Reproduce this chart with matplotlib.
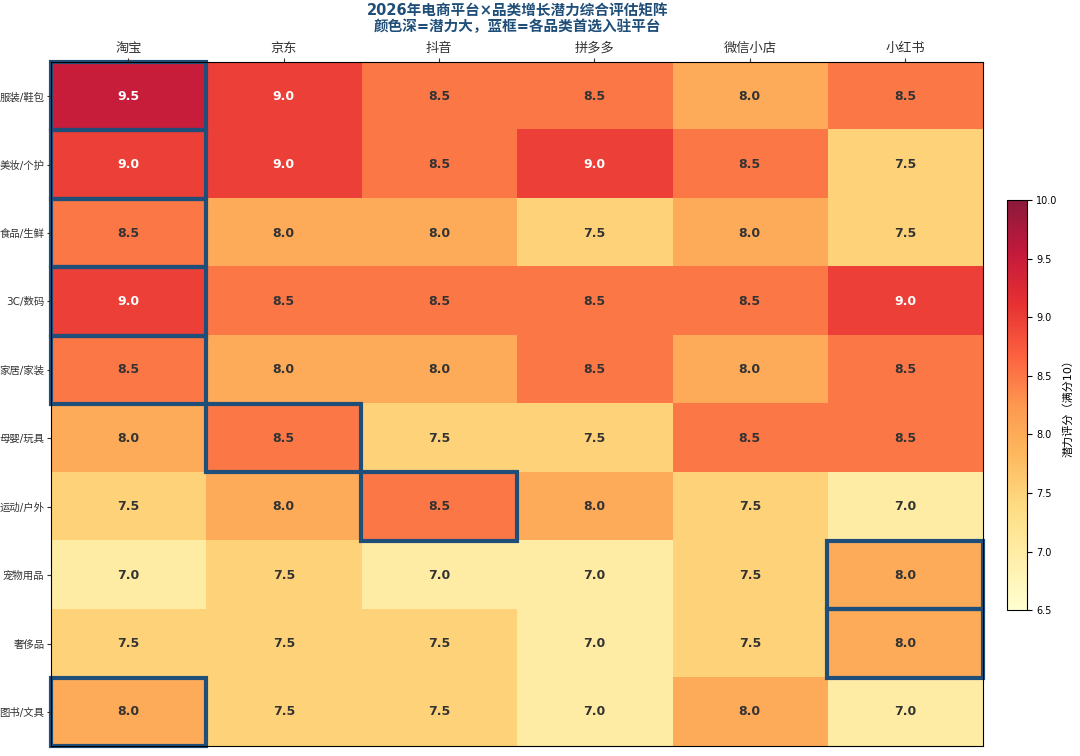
import numpy as np
import matplotlib
matplotlib.use("Agg")
import matplotlib.pyplot as plt
from matplotlib.patches import Rectangle

# DejaVu for digits/latin, CJK font picks up the Chinese glyphs
plt.rcParams['font.family'] = ['DejaVu Sans', 'Noto Sans CJK SC']
plt.rcParams['axes.unicode_minus'] = False

# platforms (columns) and categories (rows)
platforms = ["淘宝", "京东", "抖音", "拼多多", "微信小店", "小红书"]
categories = ["服装/鞋包", "美妆/个护", "食品/生鲜", "3C/数码", "家居/家装",
              "母婴/玩具", "运动/户外", "宠物用品", "奢侈品", "图书/文具"]

scores = np.array([
    [9.5, 9.0, 8.5, 8.5, 8.0, 8.5],
    [9.0, 9.0, 8.5, 9.0, 8.5, 7.5],
    [8.5, 8.0, 8.0, 7.5, 8.0, 7.5],
    [9.0, 8.5, 8.5, 8.5, 8.5, 9.0],
    [8.5, 8.0, 8.0, 8.5, 8.0, 8.5],
    [8.0, 8.5, 7.5, 7.5, 8.5, 8.5],
    [7.5, 8.0, 8.5, 8.0, 7.5, 7.0],
    [7.0, 7.5, 7.0, 7.0, 7.5, 8.0],
    [7.5, 7.5, 7.5, 7.0, 7.5, 8.0],
    [8.0, 7.5, 7.5, 7.0, 8.0, 7.0],
])

TITLE = "2026年电商平台×品类增长潜力综合评估矩阵\n颜色深=潜力大，蓝框=各品类首选入驻平台"
CBAR_LABEL = "潜力评分（满分10）"
BOX_COLOR = "#1f4e79"

fig = plt.figure(figsize=(10.8, 7.56), dpi=100)
ax = fig.add_axes([0.047, 0.013, 0.863, 0.905])
cax = fig.add_axes([0.932, 0.193, 0.0185, 0.542])

im = ax.imshow(scores, cmap="YlOrRd", vmin=6.5, vmax=10, aspect="auto", alpha=0.9)

ax.set_xticks(np.arange(len(platforms)))
ax.set_xticklabels(platforms, fontsize=9.5)
ax.set_yticks(np.arange(len(categories)))
ax.set_yticklabels(categories, fontsize=7.5)
ax.xaxis.tick_top()
ax.tick_params(axis="both", colors="#333333", length=3, pad=2)
ax.tick_params(axis="y", pad=1.5)

for i in range(scores.shape[0]):
    for j in range(scores.shape[1]):
        v = scores[i, j]
        ax.text(j, i, f"{v:.1f}", ha="center", va="center", fontsize=9,
                fontweight="bold", color="white" if v >= 9 else "#333333")

# best platform per category
best = scores.argmax(axis=1)
for i, j in enumerate(best):
    ax.add_patch(Rectangle((j - 0.5, i - 0.5), 1, 1, fill=False,
                           edgecolor=BOX_COLOR, linewidth=3, clip_on=False))

fig.text(0.479, 0.995, TITLE, ha="center", va="top", fontsize=10.5,
         fontweight="bold", color=BOX_COLOR, linespacing=1.05)

cb = fig.colorbar(im, cax=cax)
cb.set_ticks(np.arange(6.5, 10.01, 0.5))
cb.ax.tick_params(labelsize=7)
cb.set_label(CBAR_LABEL, fontsize=8)

fig.savefig("out.png", dpi=100)
